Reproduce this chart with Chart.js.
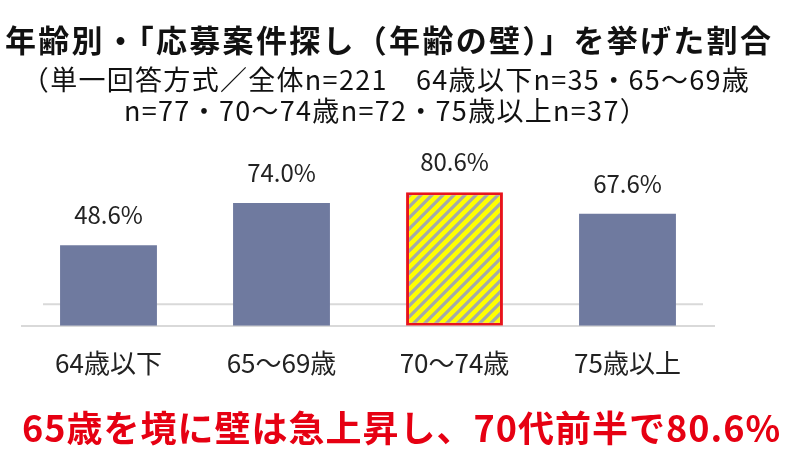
<!DOCTYPE html>
<html lang="ja">
<head>
<meta charset="utf-8">
<script src="https://cdn.jsdelivr.net/npm/chart.js@4/dist/chart.umd.min.js"></script>
<style>
  html, body { margin: 0; padding: 0; background: #fff; }
  #wrap { position: relative; width: 800px; height: 461px; overflow: hidden; font-family: "Noto Sans CJK JP", "Noto Sans", sans-serif; }
  #chart { position: absolute; left: 0; top: 0; }
  .txt { position: absolute; white-space: nowrap; }
  #title { left: 5px; top: 23px; font-size: 31px; font-weight: bold; color: #111; line-height: 1; letter-spacing: 2.3px; }
  #sub { left: 0; width: 772px; top: 63px; font-size: 27px; color: #111; line-height: 31px; text-align: center; letter-spacing: 1.3px; }
  #note { left: 22px; top: 408px; font-size: 36px; font-weight: bold; color: #e60012; line-height: 1; letter-spacing: 1px; }
</style>
</head>
<body>
<div id="wrap">
  <canvas id="chart" width="800" height="461"></canvas>
  <div class="txt" id="title">年齢別・「応募案件探し（年齢の壁）」を挙げた割合</div>
  <div class="txt" id="sub">（単一回答方式／全体n=221　64歳以下n=35・65～69歳<br>n=77・70～74歳n=72・75歳以上n=37）</div>
  <div class="txt" id="note">65歳を境に壁は急上昇し、70代前半で80.6%</div>
</div>
<script>
// data
var ageLabels = ['64歳以下', '65～69歳', '70～74歳', '75歳以上'];
var ratioValues = [48.6, 74.0, 80.6, 67.6];
var highlightIndex = 2;
var refLineValue = 13;

// diagonal stripe pattern for the highlighted bar
function makeStripes() {
  var c = document.createElement('canvas');
  c.width = 11; c.height = 11;
  var g = c.getContext('2d');
  g.fillStyle = '#ffff00';
  g.fillRect(0, 0, 11, 11);
  g.strokeStyle = '#a3aaa8';
  g.lineWidth = 3.2;
  g.beginPath();
  g.moveTo(-2, 13); g.lineTo(13, -2);
  g.moveTo(-8, 8); g.lineTo(8, -8);
  g.moveTo(3, 19); g.lineTo(19, 3);
  g.stroke();
  return g.createPattern(c, 'repeat');
}

var stripes = makeStripes();
var barColors = ratioValues.map(function (v, i) { return i === highlightIndex ? stripes : '#6f7a9f'; });
var borderColors = ratioValues.map(function (v, i) { return i === highlightIndex ? '#e8141c' : 'rgba(0,0,0,0)'; });
var borderWidths = ratioValues.map(function (v, i) { return i === highlightIndex ? 3 : 0; });

var valueLabels = {
  id: 'valueLabels',
  afterDatasetsDraw: function (chart) {
    var ctx = chart.ctx;
    var meta = chart.getDatasetMeta(0);
    ctx.save();
    ctx.font = '24px "Noto Sans CJK JP", "Noto Sans", sans-serif';
    ctx.fillStyle = '#222';
    ctx.textAlign = 'center';
    ctx.textBaseline = 'middle';
    meta.data.forEach(function (bar, i) {
      ctx.fillText(ratioValues[i].toFixed(1) + '%', bar.x, bar.y - 30);
    });
    ctx.restore();
  }
};

var refLine = {
  id: 'refLine',
  beforeDatasetsDraw: function (chart) {
    var ctx = chart.ctx;
    var y = chart.scales.y.getPixelForValue(refLineValue);
    ctx.save();
    ctx.strokeStyle = '#d9d9d9';
    ctx.lineWidth = 2;
    ctx.beginPath();
    ctx.moveTo(43, y);
    ctx.lineTo(703, y);
    ctx.stroke();
    ctx.restore();
  }
};

var ctx = document.getElementById('chart').getContext('2d');
var myChart = new Chart(ctx, {
  type: 'bar',
  data: {
    labels: ageLabels,
    datasets: [{
      data: ratioValues,
      backgroundColor: barColors,
      borderColor: borderColors,
      borderWidth: borderWidths,
      borderSkipped: false,
      categoryPercentage: 1,
      barPercentage: 0.56
    }]
  },
  options: {
    responsive: false,
    animation: false,
    events: [],
    layout: { padding: { left: 22, right: 86, top: 160, bottom: 60 } },
    plugins: {
      legend: { display: false },
      tooltip: { enabled: false },
      title: { display: false }
    },
    scales: {
      x: {
        grid: { display: false, drawTicks: false },
        border: { display: true, color: '#d9d9d9', width: 2 },
        ticks: {
          color: '#222',
          padding: 22,
          font: { family: '"Noto Sans CJK JP", "Noto Sans", sans-serif', size: 26 }
        }
      },
      y: {
        display: false,
        min: 0,
        max: 100
      }
    }
  },
  plugins: [refLine, valueLabels]
});
</script>
</body>
</html>
